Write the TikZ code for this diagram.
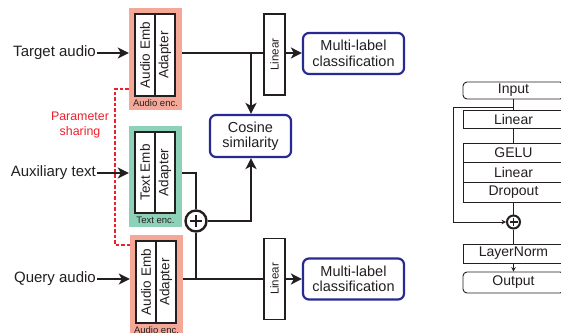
\documentclass[tikz,border=0pt]{standalone}
\usepackage{fontspec}
\usepackage{graphicx}
\setmainfont{Liberation Sans}
\usetikzlibrary{arrows.meta}
\definecolor{salmon}{RGB}{245,168,152}
\definecolor{tealbg}{RGB}{142,209,185}
\definecolor{navy}{RGB}{40,42,145}
\definecolor{pred}{RGB}{236,32,44}
\definecolor{ink}{RGB}{35,31,32}
\begin{document}
\begin{tikzpicture}[x=1pt,y=-1pt,
  every node/.style={text=ink},
  lbl/.style={inner sep=0pt, font=\fontsize{15}{18}\selectfont},
  encbg/.style={draw=none, minimum width=53pt, minimum height=102pt, inner sep=0pt},
  emb/.style={draw=ink, line width=1.3pt, fill=white, minimum width=20pt, minimum height=82pt, inner sep=0pt, font=\fontsize{13.5}{16}\selectfont},
  enclbl/.style={inner sep=0pt, font=\fontsize{9.5}{11}\selectfont},
  linbox/.style={draw=ink, line width=1.1pt, fill=white, minimum width=21pt, minimum height=81pt, inner sep=0pt, font=\fontsize{11.5}{14}\selectfont},
  outbox/.style={draw=navy, line width=2.2pt, rounded corners=6pt, fill=white, minimum height=41pt, align=center, inner sep=0pt, font=\fontsize{14.5}{15.5}\selectfont},
  wire/.style={draw=ink, line width=2.6pt},
  arr/.style={wire, -{Stealth[length=11pt,width=11pt,inset=3pt]}},
  share/.style={draw=pred, line width=1.8pt, dash pattern=on 3.5pt off 2pt},
  rbox/.style={draw=ink, line width=0.9pt, fill=white, minimum width=101pt, inner sep=0pt, font=\fontsize{14}{16}\selectfont},
  rwire/.style={draw=ink, line width=0.9pt},
  rarr/.style={rwire, -{Stealth[length=4.5pt,width=4.5pt]}}
]
\useasboundingbox (0,0) rectangle (561,332);
\clip (0,0) rectangle (561,332);

% encoders
\node[encbg, fill=salmon] (enc1) at (155.5,59) {};
\node[emb] (ae1) at (145,55) {\rotatebox{90}{Audio Emb}};
\node[emb] (ad1) at (165,55) {\rotatebox{90}{Adapter}};
\node[enclbl] (el1) at (155.5,103) {Audio enc.};

\node[encbg, fill=tealbg, minimum height=101pt] (enc2) at (155.5,176.5) {};
\node[emb, minimum height=81pt] (te2) at (145,172.5) {\rotatebox{90}{Text Emb}};
\node[emb, minimum height=81pt] (ad2) at (165,172.5) {\rotatebox{90}{Adapter}};
\node[enclbl] (el2) at (155.5,220) {Text enc.};

\node[encbg, fill=salmon] (enc3) at (156.5,286) {};
\node[emb] (ae3) at (146,282) {\rotatebox{90}{Audio Emb}};
\node[emb] (ad3) at (166,282) {\rotatebox{90}{Adapter}};
\node[enclbl] (el3) at (156.5,330) {Audio enc.};

% linear and output boxes
\node[linbox] (lin1) at (274.5,54.5) {\rotatebox{90}{Linear}};
\node[linbox] (lin2) at (274.5,279) {\rotatebox{90}{Linear}};
\node[outbox, minimum width=101pt] (ml1) at (353.5,53.5) {Multi-label\\classification};
\node[outbox, minimum width=101pt] (ml2) at (353.5,279) {Multi-label\\classification};
\node[outbox, minimum width=81pt, minimum height=42pt] (cos) at (250.5,136) {Cosine\\similarity};

% sum
\node[circle, draw=ink, line width=2.4pt, fill=white, minimum size=21pt, inner sep=0pt] (plus) at (196,221) {};
\draw[ink, line width=2pt] ([xshift=-6pt]plus.center) -- ([xshift=6pt]plus.center)
  ([yshift=-6pt]plus.center) -- ([yshift=6pt]plus.center);

% input labels
\node[lbl, anchor=east] (ta) at (96,53) {Target audio};
\node[lbl, anchor=east] (at) at (96,173) {Auxiliary text};
\node[lbl, anchor=east] (qa) at (96,279) {Query audio};

% parameter sharing
\coordinate (rdA) at (115,89);
\coordinate (rdB) at (115,245);
\draw[share] (enc1.west |- rdA) -- (rdA) -- (rdB) -- (enc3.west |- rdB);
\node[inner sep=0pt, text=pred, align=center, font=\fontsize{12.4}{15.5}\selectfont] (ps) at (80,125) {Parameter\\sharing};

% input arrows
\draw[arr] ([xshift=1pt]ta.east) -- (enc1.west |- ta.east);
\draw[arr] ([xshift=1pt]at.east) -- (enc2.west |- at.east);
\draw[arr] ([xshift=1pt]qa.east) -- (enc3.west |- qa.east);

% top path
\coordinate (j1) at (251,53);
\draw[wire] (enc1.east |- j1) -- (lin1.west |- j1);
\draw[arr] (lin1.east |- j1) -- (ml1.west |- j1);
\draw[arr] (j1) -- (cos.north -| j1);

% text path
\coordinate (j2) at (196,173);
\draw[wire] (enc2.east |- j2) -- (j2) -- (plus.north);

% query path
\coordinate (j3) at (196,279);
\draw[wire] (enc3.east |- j3) -- (lin2.west |- j3);
\draw[wire] (j3) -- (plus.south);
\draw[arr] (lin2.east |- j3) -- (ml2.west |- j3);

% sum to cosine
\coordinate (j4) at (251,221);
\draw[arr] (plus.east) -- (j4) -- (cos.south -| j4);

% adapter detail
\node[rbox, rounded corners=4pt, minimum height=17pt] (inp) at (513.5,90.5) {Input};
\node[rbox, minimum height=18pt] (rl1) at (513.5,119) {Linear};
\node[rbox, minimum height=19.5pt] (gelu) at (513.5,152.75) {GELU};
\node[rbox, minimum height=19.5pt] (rl2) at (513.5,172.25) {Linear};
\node[rbox, minimum height=20pt] (drop) at (513.5,192) {Dropout};
\node[circle, draw=ink, line width=2pt, fill=white, minimum size=13pt, inner sep=0pt] (rplus) at (513.5,222) {};
\draw[ink, line width=1.4pt] ([xshift=-4pt]rplus.center) -- ([xshift=4pt]rplus.center)
  ([yshift=-4pt]rplus.center) -- ([yshift=4pt]rplus.center);
\node[rbox, minimum height=19pt] (ln) at (513.5,253.5) {LayerNorm};
\node[rbox, rounded corners=4pt, minimum height=21pt] (outp) at (513.5,282.5) {Output};

\draw[rwire] (inp.south) -- (rl1.north);
\draw[rwire] (rl1.south) -- (gelu.north);
\draw[rwire] (drop.south) -- (rplus.north);
\draw[rwire] (rplus.south) -- (ln.north);
\draw[rarr] (ln.south) -- (outp.north);
\coordinate (sk1) at (513.5,107);
\coordinate (sk2) at (453,107);
\coordinate (sk3) at (453,222);
\draw[rarr] (sk1) -- (sk2) -- (sk3) -- (rplus.west);
\end{tikzpicture}
\end{document}
